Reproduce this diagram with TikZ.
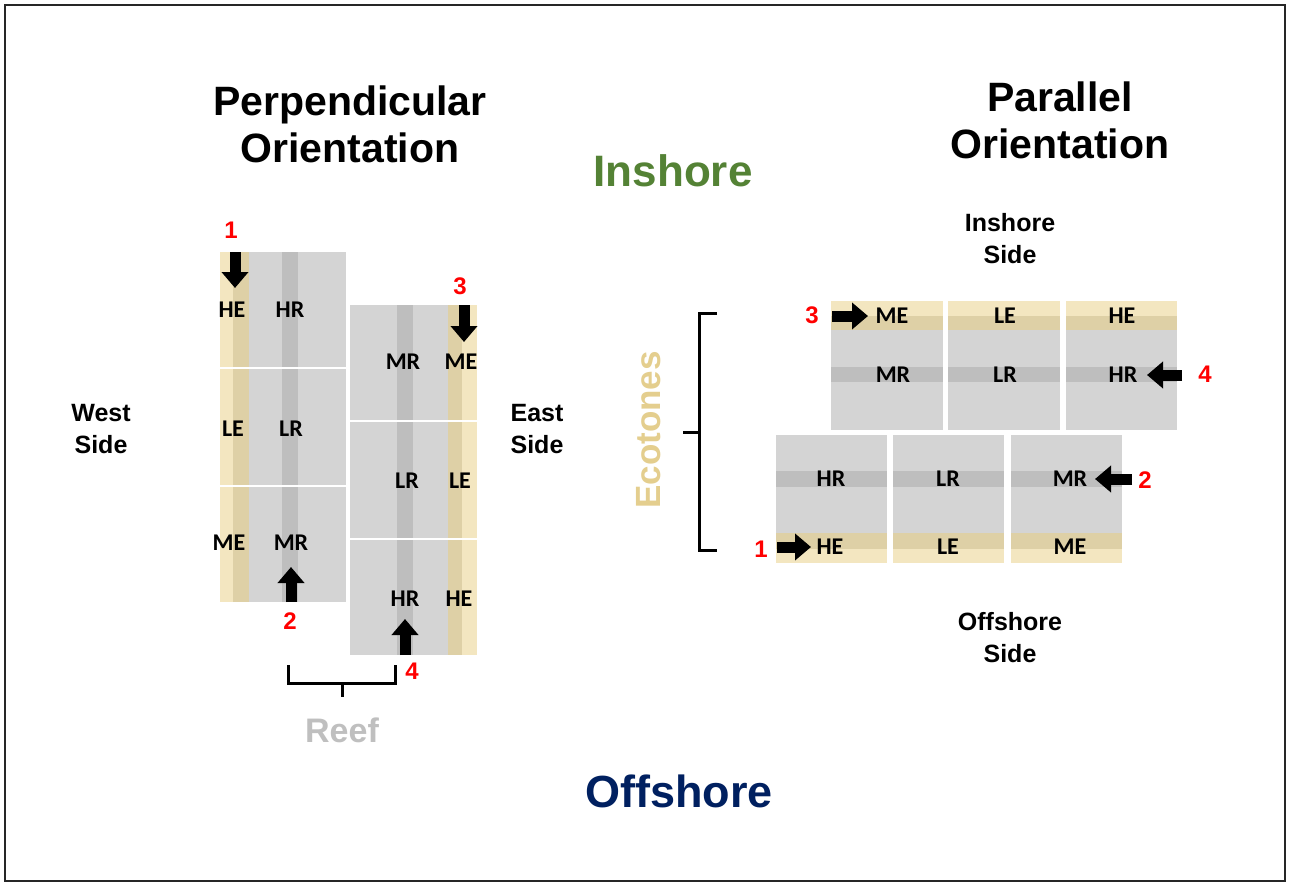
\documentclass[tikz,border=0pt]{standalone}
\usepackage{fontspec}
\setmainfont{Liberation Sans}
\newfontfamily\carl{Carlito}
\usetikzlibrary{arrows.meta}

\definecolor{lgray}{RGB}{212,212,212}
\definecolor{dgray}{RGB}{190,190,190}
\definecolor{ltan}{RGB}{243,230,192}
\definecolor{dtan}{RGB}{222,208,166}
\definecolor{inshoregreen}{RGB}{84,130,53}
\definecolor{offshorenavy}{RGB}{0,32,96}
\definecolor{ecotan}{RGB}{228,206,142}
\definecolor{reefgray}{RGB}{191,191,191}
\definecolor{numred}{RGB}{255,0,0}

\begin{document}
\begin{tikzpicture}[x=1pt,y=-1pt,
  title/.style={font=\fontsize{41}{47}\selectfont\bfseries, align=center, anchor=base, inner sep=0pt},
  side/.style={font=\fontsize{25}{32}\selectfont\bfseries, align=center, anchor=base, inner sep=0pt},
  zone/.style={font=\fontsize{34}{40}\selectfont\bfseries, anchor=base, inner sep=0pt},
  cell/.style={font=\carl\fontsize{24}{26}\selectfont\bfseries, inner sep=0pt},
  num/.style={font=\fontsize{24}{26}\selectfont\bfseries, text=numred, anchor=base, inner sep=0pt},
  blk/.style={line width=11pt, -{Triangle[width=26pt,length=16pt]}},
  brk/.style={line width=3pt, line cap=butt, line join=miter}]

\useasboundingbox (0,0) rectangle (1289,885);
\fill[white] (0,0) rectangle (1289,885);
\draw[line width=2.5pt, black!85] (5,5) rectangle (1285,881);

% ---------- perpendicular layout: west column ----------
\foreach \ya/\yb in {252/367, 369/485, 487/602} {
  \fill[ltan]  (220,\ya) rectangle (233,\yb);
  \fill[dtan]  (233,\ya) rectangle (249,\yb);
  \fill[lgray] (249,\ya) rectangle (346,\yb);
  \fill[dgray] (282,\ya) rectangle (298,\yb);
}
% east column
\foreach \ya/\yb in {305/420, 422/538, 540/655} {
  \fill[lgray] (350,\ya) rectangle (448,\yb);
  \fill[dgray] (397,\ya) rectangle (413,\yb);
  \fill[dtan]  (448,\ya) rectangle (462,\yb);
  \fill[ltan]  (462,\ya) rectangle (477,\yb);
}

\node[cell] (pHE) at (232,310) {HE};
\node[cell] (pHR) at (290,310) {HR};
\node[cell] (pLE) at (233,429) {LE};
\node[cell] (pLR) at (291,429) {LR};
\node[cell] (pME) at (229,543) {ME};
\node[cell] (pMR) at (291,543) {MR};
\node[cell] (qMR) at (403,362) {MR};
\node[cell] (qME) at (461,362) {ME};
\node[cell] (qLR) at (407,481) {LR};
\node[cell] (qLE) at (460,481) {LE};
\node[cell] (qHR) at (405,599) {HR};
\node[cell] (qHE) at (459,599) {HE};

% entry arrows and their numbers
\coordinate (pa1s) at (235,252); \coordinate (pa1e) at (235,288);
\coordinate (pa3s) at (464,305); \coordinate (pa3e) at (464,342);
\coordinate (pa2s) at (291,602); \coordinate (pa2e) at (291,567);
\coordinate (pa4s) at (405,655); \coordinate (pa4e) at (405,619);
\draw[blk] (pa1s) -- (pa1e);
\draw[blk] (pa3s) -- (pa3e);
\draw[blk] (pa2s) -- (pa2e);
\draw[blk] (pa4s) -- (pa4e);
\node[num] (pn1) at (231,239) {1};
\node[num] (pn3) at (460,294) {3};
\node[num] (pn2) at (290,629) {2};
\node[num] (pn4) at (412,679) {4};

% reef bracket
\coordinate (rbl) at (288,665); \coordinate (rbr) at (395,665);
\coordinate (rbm) at (342,683); \coordinate (rbt) at (342,697);
\draw[brk] (rbl) |- (rbr |- rbm) -- (rbr);
\draw[brk] (rbm) -- (rbt);
\node[zone, text=reefgray] (reef) at (342,742) {Reef};

% multi-line labels are anchored at the baseline of their last line
\node[title] (perp) at (350,163) {Perpendicular\\Orientation};
\node[side] (west) at (101,453) {West\\Side};
\node[side] (east) at (537,453) {East\\Side};

% ---------- parallel layout ----------
\foreach \xa/\xb in {831/943, 948/1060, 1066/1177} {
  \fill[ltan]  (\xa,301) rectangle (\xb,316);
  \fill[dtan]  (\xa,316) rectangle (\xb,330);
  \fill[lgray] (\xa,330) rectangle (\xb,430);
  \fill[dgray] (\xa,367) rectangle (\xb,382);
}
\foreach \xa/\xb in {776/887, 893/1004, 1011/1122} {
  \fill[lgray] (\xa,435) rectangle (\xb,533);
  \fill[dgray] (\xa,471) rectangle (\xb,487);
  \fill[dtan]  (\xa,533) rectangle (\xb,549);
  \fill[ltan]  (\xa,549) rectangle (\xb,563);
}

\node[cell] (uME) at (892,316) {ME};
\node[cell] (uLE) at (1005,316) {LE};
\node[cell] (uHE) at (1122,316) {HE};
\node[cell] (uMR) at (893,375) {MR};
\node[cell] (uLR) at (1005,375) {LR};
\node[cell] (uHR) at (1123,375) {HR};
\node[cell] (vHR) at (831,479) {HR};
\node[cell] (vLR) at (948,479) {LR};
\node[cell] (vMR) at (1070,479) {MR};
\node[cell] (vHE) at (830,547) {HE};
\node[cell] (vLE) at (948,547) {LE};
\node[cell] (vME) at (1070,547) {ME};

\coordinate (ua3s) at (832,316);  \coordinate (ua3e) at (868,316);
\coordinate (ua4s) at (1182,375); \coordinate (ua4e) at (1147,375);
\coordinate (va2s) at (1132,479); \coordinate (va2e) at (1095,479);
\coordinate (va1s) at (777,547);  \coordinate (va1e) at (811,547);
\draw[blk] (ua3s) -- (ua3e);
\draw[blk] (ua4s) -- (ua4e);
\draw[blk] (va2s) -- (va2e);
\draw[blk] (va1s) -- (va1e);
\node[num] (un3) at (812,323) {3};
\node[num] (un4) at (1205,382) {4};
\node[num] (vn2) at (1145,488) {2};
\node[num] (vn1) at (761,557) {1};

% ecotone bracket
\coordinate (ebt) at (717,313); \coordinate (ebb) at (717,550);
\coordinate (ebm) at (699,432); \coordinate (ebk) at (683,432);
\draw[brk] (ebt) -- (ebm |- ebt) -- (ebm |- ebb) -- (ebb);
\draw[brk] (ebk) -- (ebm);
\node[font=\fontsize{35}{40}\selectfont\bfseries, text=ecotan, rotate=90, inner sep=0pt] (eco) at (649,430) {Ecotones};

\node[title] (para) at (1060,159) {Parallel\\Orientation};
\node[side] (inside) at (1010,263) {Inshore\\Side};
\node[side] (offside) at (1010,662) {Offshore\\Side};

% ---------- shore labels ----------
\node[zone, font=\fontsize{44}{50}\selectfont\bfseries, text=inshoregreen] (inshore) at (673,187) {Inshore};
\node[zone, font=\fontsize{45}{50}\selectfont\bfseries, text=offshorenavy] (offshore) at (679,807) {Offshore};
\end{tikzpicture}
\end{document}
